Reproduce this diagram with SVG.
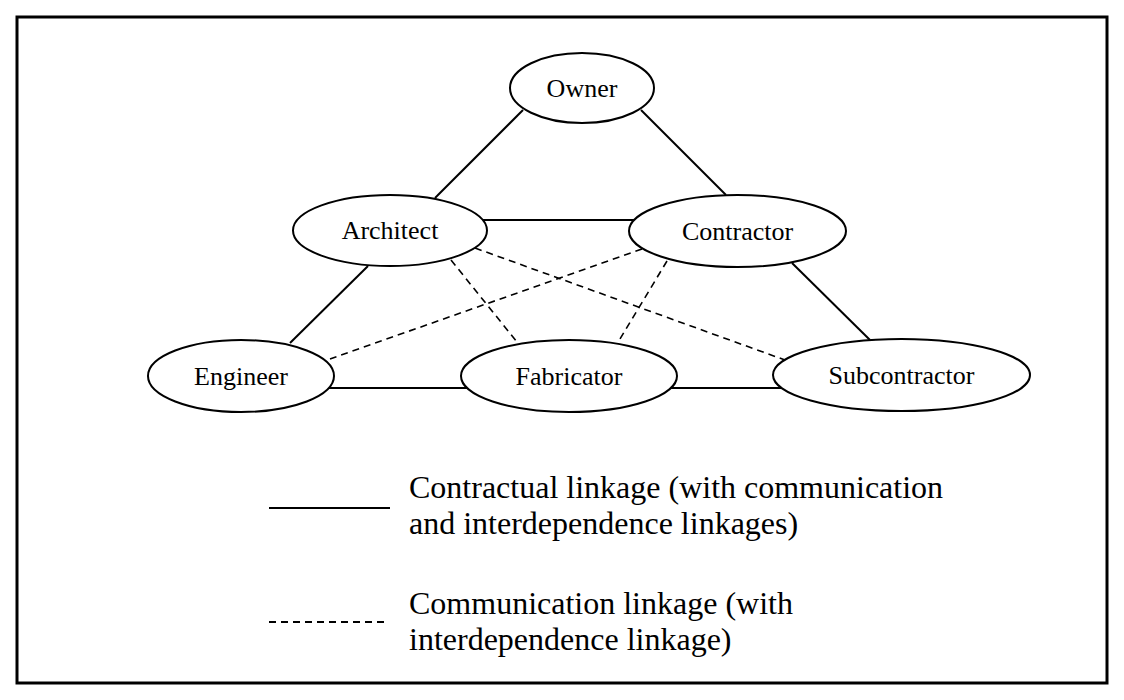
<svg xmlns="http://www.w3.org/2000/svg" width="1124" height="700" viewBox="0 0 1124 700">
<style>
.node ellipse{fill:#fff;stroke:#000;stroke-width:2}
.node text,.legend text{font-family:"Liberation Serif","Times New Roman",serif;fill:#000}
.node text{font-size:26px;text-anchor:middle;dominant-baseline:central}
.legend text{font-size:32px}
.solid{stroke:#000;stroke-width:2;fill:none}
.dash{stroke:#000;stroke-width:1.6;fill:none;stroke-dasharray:7 5}
</style>
<rect x="0" y="0" width="1124" height="700" fill="#fff"/>
<rect id="frame" x="17" y="17" width="1090" height="666" fill="none" stroke="#000" stroke-width="3"/>
<g id="connectors">
<line class="solid" x1="523" y1="110" x2="435" y2="198"/>
<line class="solid" x1="641" y1="110" x2="726" y2="195"/>
<line class="solid" x1="483" y1="220" x2="634" y2="220"/>
<line class="solid" x1="368" y1="266" x2="290" y2="343"/>
<line class="solid" x1="792" y1="263" x2="870" y2="340"/>
<line class="solid" x1="329" y1="388" x2="467" y2="388"/>
<line class="solid" x1="671" y1="388" x2="782" y2="388"/>
<line class="dash" x1="475" y1="248" x2="785" y2="360"/>
<line class="dash" x1="451" y1="260" x2="517" y2="342"/>
<line class="dash" x1="642" y1="249" x2="330" y2="359"/>
<line class="dash" x1="667" y1="261" x2="620" y2="339"/>
</g>
<g id="owner" class="node"><ellipse cx="582" cy="88" rx="72" ry="35"/><text x="582" y="88">Owner</text></g>
<g id="architect" class="node"><ellipse cx="390" cy="230.5" rx="97" ry="35.5"/><text x="390" y="230.5">Architect</text></g>
<g id="contractor" class="node"><ellipse cx="737.5" cy="231" rx="108.5" ry="36"/><text x="737.5" y="231">Contractor</text></g>
<g id="engineer" class="node"><ellipse cx="241" cy="376" rx="93" ry="36"/><text x="241" y="376">Engineer</text></g>
<g id="fabricator" class="node"><ellipse cx="569" cy="376" rx="108" ry="36"/><text x="569" y="376">Fabricator</text></g>
<g id="subcontractor" class="node"><ellipse cx="901.5" cy="375" rx="128.5" ry="36"/><text x="901.5" y="375">Subcontractor</text></g>
<g id="legend" class="legend">
<line class="solid" x1="269" y1="508" x2="390" y2="508"/>
<text x="409" y="498">Contractual linkage (with communication</text>
<text x="409" y="534">and interdependence linkages)</text>
<line class="dash" x1="269" y1="622" x2="388" y2="622" style="stroke-dasharray:7 5;stroke-width:2"/>
<text x="409" y="614">Communication linkage (with</text>
<text x="409" y="650">interdependence linkage)</text>
</g>
</svg>
